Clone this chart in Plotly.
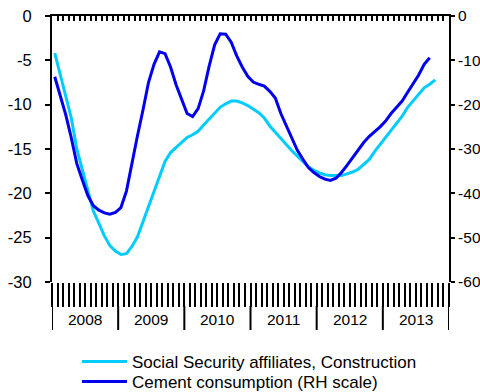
import plotly.graph_objects as go

years = ["2008", "2009", "2010", "2011", "2012", "2013"]

social_security = [
    -4.2, -6.6, -9.0, -11.5, -15.0, -17.4, -19.8, -22.0, -23.4, -24.8, -25.9, -26.5,
    -26.9, -26.8, -26.0, -24.9, -23.2, -21.5, -19.6, -18.0, -16.4, -15.4, -14.8, -14.2,
    -13.7, -13.4, -13.0, -12.3, -11.6, -10.9, -10.3, -9.9, -9.6, -9.6, -9.8, -10.1,
    -10.5, -10.9, -11.5, -12.4, -13.1, -13.8, -14.6, -15.2, -15.8, -16.4, -17.0, -17.4,
    -17.7, -17.9, -18.0, -18.0, -18.0, -17.8, -17.6, -17.3, -16.7, -16.2, -15.3, -14.5,
    -13.7, -12.9, -12.1, -11.3, -10.3, -9.6, -8.9, -8.1, -7.7, -7.2,
]

cement = [
    -13.7, -18.0, -22.3, -27.5, -33.3, -37.0, -40.5, -42.8, -43.8, -44.4, -44.7, -44.3,
    -43.2, -39.5, -33.0, -27.0, -21.2, -15.0, -10.9, -8.1, -8.5, -11.5, -15.5, -19.0,
    -22.0, -22.7, -20.9, -16.9, -11.3, -6.5, -4.0, -4.1, -5.9, -9.0, -11.5, -13.6,
    -14.9, -15.4, -15.8, -17.0, -18.5, -22.0, -24.7, -27.5, -30.3, -32.3, -34.2, -35.3,
    -36.2, -36.8, -37.1, -36.6, -35.3, -33.7, -31.9, -30.3, -28.6, -27.2, -26.2, -25.0,
    -23.7, -22.0, -20.6, -19.2, -17.2, -15.2, -13.3, -10.9, -9.4,
]

left_ticks = [0, -5, -10, -15, -20, -25, -30]
right_ticks = [0, -10, -20, -30, -40, -50, -60]

n_months = 12 * len(years)
x_ss = [i + 0.5 for i in range(len(social_security))]
x_ce = [i + 0.5 for i in range(len(cement))]
month_bounds = list(range(0, n_months + 1))

FONT = "Liberation Sans, Arial, sans-serif"

fig = go.Figure()
fig.add_trace(go.Scatter(
    x=x_ss, y=social_security, mode="lines",
    name="Social Security affiliates, Construction",
    line=dict(color="#00CCFF", width=3),
    xaxis="x", yaxis="y", legend="legend",
))
fig.add_trace(go.Scatter(
    x=x_ce, y=cement, mode="lines",
    name="Cement consumption (RH scale)",
    line=dict(color="#0000EE", width=3),
    xaxis="x2", yaxis="y2", legend="legend2",
))

# plot area: top 16px, bottom 282px -> height 266; left 52px, width 397
H_PLOT = 266.0
W_PLOT = 397.0
def py(px):
    return (282.0 - px) / H_PLOT
def px_(x):
    return (x - 52.0) / W_PLOT

shapes = []
for k in range(len(years) + 1):
    shapes.append(dict(type="line", xref="x", yref="paper",
                       x0=12 * k, x1=12 * k, y0=py(306), y1=py(330),
                       line=dict(color="black", width=2)))

annotations = []
for k, yr in enumerate(years):
    annotations.append(dict(x=12 * k + 6, y=py(319), xref="x", yref="paper",
                            text=yr, showarrow=False, yanchor="middle",
                            font=dict(family=FONT, size=15.5, color="black")))

legend_common = dict(xanchor="left", yanchor="middle",
                     font=dict(family=FONT, size=17, color="black"),
                     itemwidth=45, bgcolor="rgba(0,0,0,0)", borderwidth=0)

fig.update_layout(
    width=480, height=392,
    margin=dict(l=52, r=31, t=16, b=110, autoexpand=False),
    paper_bgcolor="white", plot_bgcolor="white",
    font=dict(family=FONT, size=16, color="black"),
    showlegend=True,
    legend=dict(x=px_(77), y=py(362), **legend_common),
    legend2=dict(x=px_(77), y=py(382), **legend_common),
    xaxis=dict(range=[0, n_months], tickvals=month_bounds, ticks="outside",
               ticklen=24, tickwidth=1.5, tickcolor="black",
               showticklabels=False, showline=False, showgrid=False,
               zeroline=False, fixedrange=True, automargin=False),
    xaxis2=dict(range=[0, n_months], overlaying="x", side="top", anchor="y2",
                tickvals=month_bounds, ticks="inside", ticklen=5, tickwidth=1.5,
                tickcolor="black", showticklabels=False, showline=True,
                linecolor="black", linewidth=2, showgrid=False, zeroline=False,
                automargin=False),
    yaxis=dict(range=[-30, 0], tickvals=left_ticks,
               ticktext=[str(v) for v in left_ticks],
               ticks="outside", ticklen=5, tickwidth=1.5, tickcolor="black",
               showline=True, linecolor="black", linewidth=2,
               showgrid=False, zeroline=False, ticklabelstandoff=10,
               automargin=False,
               tickfont=dict(family=FONT, size=16.5, color="black")),
    yaxis2=dict(range=[-60, 0], tickvals=right_ticks,
                ticktext=[str(v) for v in right_ticks],
                overlaying="y", side="right", anchor="x2",
                ticks="outside", ticklen=4, tickwidth=1.5, tickcolor="black",
                showline=True, linecolor="black", linewidth=2,
                showgrid=False, zeroline=False, ticklabelstandoff=0,
                automargin=False,
                tickfont=dict(family=FONT, size=15.5, color="black")),
    shapes=shapes,
    annotations=annotations,
)

fig.write_html("out.html")
